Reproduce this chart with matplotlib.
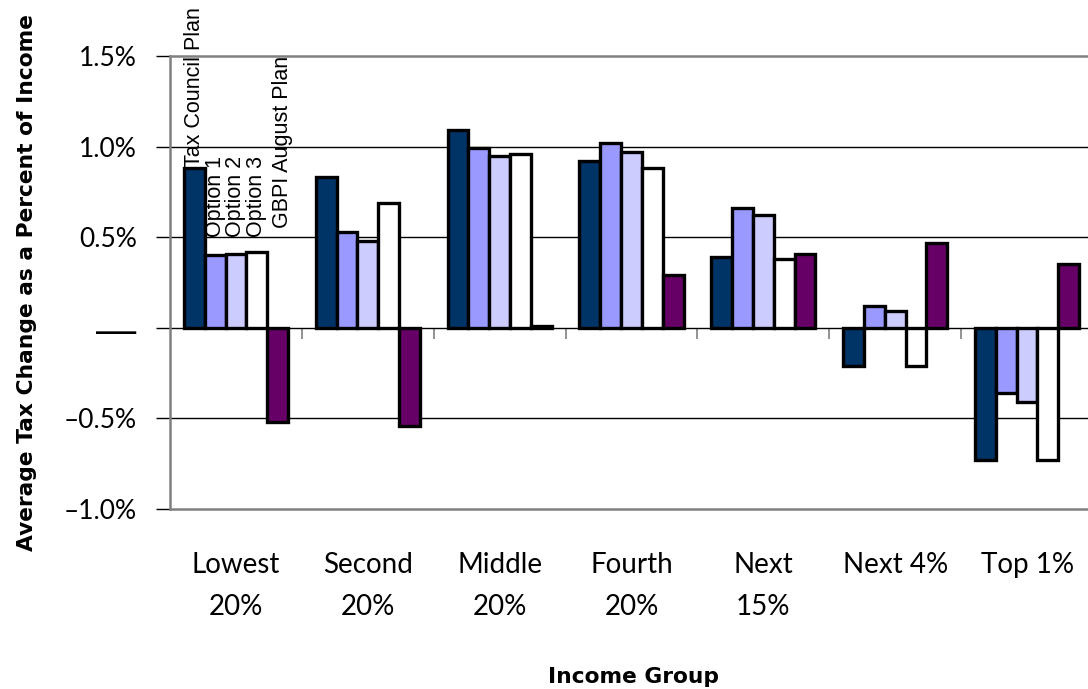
import matplotlib.pyplot as plt
import numpy as np

plt.rcParams.update({
    'font.family': ['Lato', 'DejaVu Sans'],
})

groups = ['Lowest\n20%', 'Second\n20%', 'Middle\n20%', 'Fourth\n20%',
          'Next\n15%', 'Next 4%', 'Top 1%']
series = ['Tax Council Plan', 'Option 1', 'Option 2', 'Option 3', 'GBPI August Plan']
tax_council = [0.88, 0.83, 1.09, 0.92, 0.39, -0.21, -0.73]
option1 = [0.40, 0.53, 0.99, 1.02, 0.66, 0.12, -0.36]
option2 = [0.41, 0.48, 0.95, 0.97, 0.62, 0.09, -0.41]
option3 = [0.42, 0.69, 0.96, 0.88, 0.38, -0.21, -0.73]
gbpi = [-0.52, -0.54, 0.01, 0.29, 0.41, 0.47, 0.35]
values = [tax_council, option1, option2, option3, gbpi]
colors = ['#003366', '#9999FF', '#CCCCFF', '#FFFFFF', '#660066']

fig = plt.figure(figsize=(10.88, 6.89), dpi=100)
ax = fig.add_axes([170 / 1088, 1 - 509 / 689, 1 - 170 / 1088, (509 - 56) / 689])

x = np.arange(len(groups))
w = 0.158
for i, (vals, c) in enumerate(zip(values, colors)):
    ax.bar(x + (i - 2) * w, vals, w, color=c, edgecolor='black',
           linewidth=2.4, zorder=3)

# series labels above the first group (Excel-style data labels)
label_y = [0.885, 0.50, 0.50, 0.50, 0.55]
label_dx = [0, 0, 0, 0, 0.04]
for i, name in enumerate(series):
    ax.text(x[0] + (i - 2) * w + label_dx[i], label_y[i], name, rotation=90,
            ha='center', va='bottom', fontsize=15.5,
            family='Liberation Sans', zorder=4)

ax.set_ylim(-1.0, 1.5)
ax.set_xlim(-0.5, len(groups) - 0.5 - 5 / 132)
ticks = [-1.0, -0.5, 0, 0.5, 1.0, 1.5]
ax.set_yticks(ticks)
ylabels = ax.set_yticklabels(['\u20131.0%', '\u20130.5%', '\u2014', '0.5%', '1.0%', '1.5%'],
                             fontsize=19)
ylabels[2].set_fontfamily('Liberation Sans')
ylabels[2].set_fontsize(29)
ax.tick_params(axis='y', length=10, width=1, color='black', pad=14)
for t in [-0.5, 0, 0.5, 1.0]:
    ax.axhline(t, color='black', linewidth=1, zorder=1)

ax.set_xticks(x)
ax.set_xticklabels(groups, fontsize=20, linespacing=1.78, va='top')
ax.tick_params(axis='x', length=0, pad=31)

for s in ['left', 'top', 'bottom']:
    ax.spines[s].set_color('#808080')
    ax.spines[s].set_linewidth(1.8)
ax.spines['right'].set_visible(False)

# category separators on the zero line
sec = ax.secondary_xaxis(0.4)
sec.set_xticks(np.arange(0.5, len(groups) - 0.5, 1))
sec.set_xticklabels([])
sec.tick_params(length=8, width=1.2, color='#808080', direction='out')
sec.spines['bottom'].set_visible(False)

ax.set_ylabel('Average Tax Change as a Percent of Income', fontsize=15.7,
              fontweight='bold', family='DejaVu Sans')
ax.yaxis.set_label_coords(-0.145, 0.5)
fig.text(634 / 1088, 1 - 677 / 689, 'Income Group', ha='center', va='center',
         fontsize=15.7, fontweight='bold', family='DejaVu Sans')

fig.savefig('out.png', dpi=100, facecolor='white')
